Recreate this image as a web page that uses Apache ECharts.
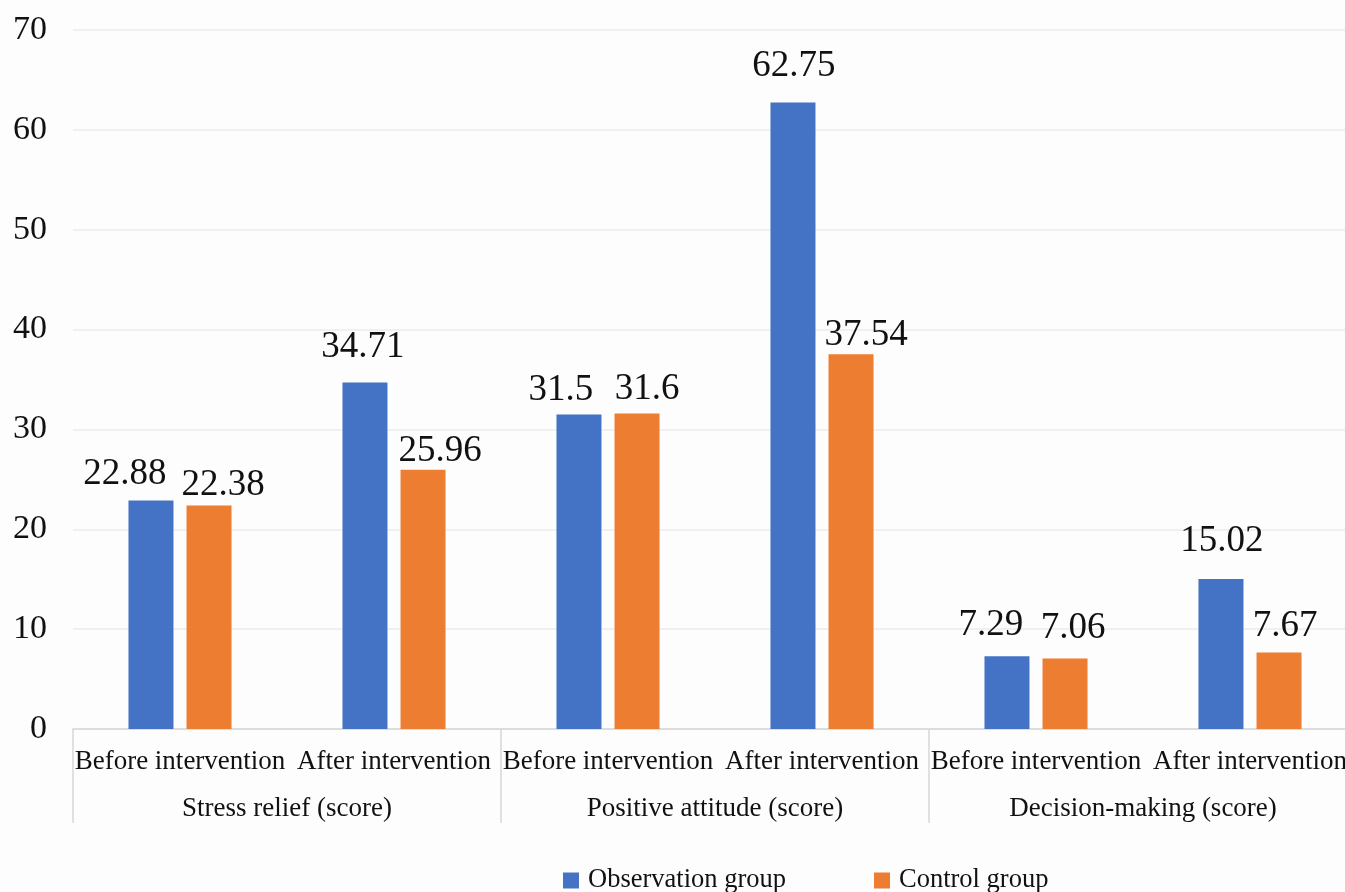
<!DOCTYPE html>
<html>
<head>
<meta charset="utf-8">
<script src="https://cdn.jsdelivr.net/npm/echarts@6/dist/echarts.min.js"></script>
<style>
  html, body { margin: 0; padding: 0; background: #fdfdfd; }
  #chart { width: 1345px; height: 892px; }
</style>
</head>
<body>
<div id="chart"></div>
<script>
// Scores by measure and time point
const phases = ['Before intervention', 'After intervention',
                'Before intervention', 'After intervention',
                'Before intervention', 'After intervention'];
const measures = ['Stress relief (score)', 'Positive attitude (score)', 'Decision-making (score)'];
const observationGroup = [22.88, 34.71, 31.5, 62.75, 7.29, 15.02];
const controlGroup = [22.38, 25.96, 31.6, 37.54, 7.06, 7.67];
const yTicks = { min: 0, max: 70, interval: 10 };

// Small label nudges [dx, dy] so neighbouring value labels stay clear of each other
const observationLabelNudge = [[-26, 0], [-2, -9], [-18, 2], [1, -10], [-16, -4], [1, -11]];
const controlLabelNudge = [[14, 6], [17, 8], [10, 2], [15, 8], [8, -4], [6, 0]];

const FONT = '"Liberation Serif", "Times New Roman", serif';
const BLUE = '#4472C4';
const ORANGE = '#ED7D31';

function withLabels(values, nudges) {
  return values.map((v, i) => ({ value: v, label: { offset: nudges[i] } }));
}

const chart = echarts.init(document.getElementById('chart'), null, { renderer: 'canvas' });

const barLabel = {
  show: true,
  position: 'top',
  distance: 8,
  color: '#111',
  fontFamily: FONT,
  fontSize: 37
};

chart.setOption({
  backgroundColor: '#fdfdfd',
  animation: false,
  // plot area runs a little past the right edge of the page
  grid: { left: 73, width: 1284, top: 30, bottom: 163, containLabel: false, outerBoundsMode: 'none' },
  legend: {
    left: 563,
    top: 867,
    padding: 0,
    itemWidth: 16,
    itemHeight: 16,
    itemGap: 88,
    icon: 'rect',
    textStyle: { fontFamily: FONT, fontSize: 26.5, color: '#111', padding: [0, 0, 0, 4] },
    data: ['Observation group', 'Control group']
  },
  xAxis: [
    {
      type: 'category',
      data: phases,
      position: 'bottom',
      boundaryGap: true,
      axisLine: { show: true, lineStyle: { color: '#d6d6d6', width: 1.5 } },
      axisTick: {
        show: true,
        length: 94,
        interval: (index) => index % 2 === 0,
        lineStyle: { color: '#d6d6d6', width: 1.5 }
      },
      axisLabel: { interval: 0, margin: 19, fontFamily: FONT, fontSize: 27, color: '#111' },
      splitLine: { show: false }
    },
    {
      type: 'category',
      data: measures,
      position: 'bottom',
      offset: 47,
      boundaryGap: true,
      axisLine: { show: false },
      axisTick: { show: false },
      axisLabel: { interval: 0, margin: 19, fontFamily: FONT, fontSize: 27, color: '#111' },
      splitLine: { show: false }
    }
  ],
  yAxis: {
    type: 'value',
    min: yTicks.min,
    max: yTicks.max,
    interval: yTicks.interval,
    axisLine: { show: false },
    axisTick: { show: false },
    axisLabel: { margin: 26, fontFamily: FONT, fontSize: 34, color: '#111' },
    splitLine: { show: true, lineStyle: { color: '#ebebeb', width: 1.5 } }
  },
  series: [
    {
      name: 'Observation group',
      type: 'bar',
      xAxisIndex: 0,
      barWidth: 45,
      barGap: '29%',
      itemStyle: { color: BLUE },
      label: barLabel,
      data: withLabels(observationGroup, observationLabelNudge)
    },
    {
      name: 'Control group',
      type: 'bar',
      xAxisIndex: 0,
      barWidth: 45,
      barGap: '29%',
      itemStyle: { color: ORANGE },
      label: barLabel,
      data: withLabels(controlGroup, controlLabelNudge)
    }
  ]
});
</script>
</body>
</html>
